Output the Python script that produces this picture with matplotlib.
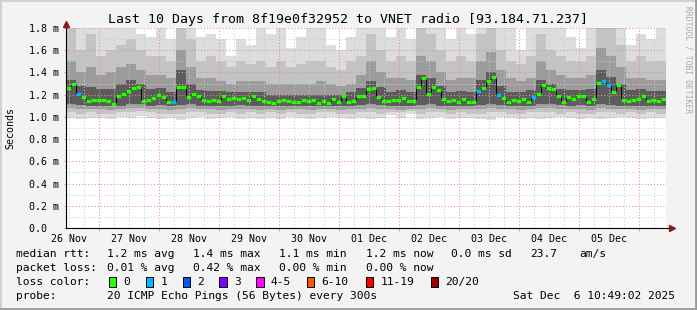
import numpy as np
import matplotlib
matplotlib.use("Agg")
import matplotlib.pyplot as plt

W, H = 697, 310
MONO = "DejaVu Sans Mono"

title = "Last 10 Days from 8f19e0f32952 to VNET radio [93.184.71.237]"

# time in hours counted from 26 Nov 00:00
t_start = 10 + 49 / 60
t_end = t_start + 240
day_labels = ["26 Nov", "27 Nov", "28 Nov", "29 Nov", "30 Nov",
              "01 Dec", "02 Dec", "03 Dec", "04 Dec", "05 Dec"]
y_ticks = [0.0, 0.2, 0.4, 0.6, 0.8, 1.0, 1.2, 1.4, 1.6, 1.8]
y_labels = ["0.0  ", "0.2 m", "0.4 m", "0.6 m", "0.8 m",
            "1.0 m", "1.2 m", "1.4 m", "1.6 m", "1.8 m"]

# median rtt (ms), one value per 2 hours
median_ms = [1.26, 1.30, 1.21, 1.18, 1.14, 1.15, 1.155, 1.155, 1.14, 1.12,
             1.19, 1.21, 1.23, 1.26, 1.27, 1.14, 1.15, 1.17, 1.20, 1.18,
             1.13, 1.135, 1.27, 1.265, 1.175, 1.21, 1.19, 1.15, 1.145, 1.15,
             1.145, 1.19, 1.16, 1.173, 1.16, 1.173, 1.15, 1.19, 1.16, 1.145,
             1.135, 1.125, 1.14, 1.15, 1.145, 1.13, 1.137, 1.15, 1.143, 1.15,
             1.128, 1.143, 1.128, 1.16, 1.13, 1.19, 1.13, 1.143, 1.19, 1.19,
             1.25, 1.257, 1.18, 1.143, 1.143, 1.15, 1.15, 1.173, 1.143, 1.143,
             1.27, 1.35, 1.21, 1.27, 1.24, 1.16, 1.143, 1.15, 1.13, 1.16,
             1.137, 1.13, 1.235, 1.257, 1.32, 1.36, 1.20, 1.173, 1.13, 1.15,
             1.143, 1.16, 1.13, 1.18, 1.21, 1.29, 1.257, 1.25, 1.19, 1.13,
             1.18, 1.16, 1.19, 1.19, 1.137, 1.16, 1.308, 1.32, 1.29, 1.22,
             1.29, 1.15, 1.14, 1.15, 1.16, 1.19, 1.14, 1.15, 1.143, 1.16]
# lost pings (of 20) for each median value
median_loss = [0, 0, 1, 0, 0, 0, 0, 0, 0, 0,
               0, 0, 0, 0, 0, 0, 0, 0, 0, 0,
               0, 1, 0, 0, 0, 0, 0, 0, 0, 0,
               0, 0, 0, 0, 0, 0, 0, 0, 0, 0,
               0, 0, 0, 0, 0, 0, 0, 0, 0, 0,
               0, 0, 0, 0, 0, 0, 0, 0, 0, 0,
               0, 0, 0, 0, 0, 0, 0, 0, 0, 0,
               0, 0, 0, 0, 0, 0, 0, 0, 0, 0,
               0, 0, 1, 0, 0, 0, 1, 0, 0, 0,
               0, 0, 0, 1, 0, 0, 0, 0, 0, 0,
               0, 0, 0, 0, 0, 0, 0, 1, 1, 0,
               0, 0, 0, 0, 0, 0, 0, 0, 0, 0]

# smoke: sorted ping levels (ms), one column per 4 hours
smoke_max = [1.85, 1.85, 1.85, 1.85, 1.85, 1.85, 1.85, 1.75, 1.72, 1.8,
             1.7, 1.85, 1.85, 1.72, 1.75, 1.7, 1.55, 1.7, 1.65, 1.8,
             1.75, 1.8, 1.62, 1.72, 1.8, 1.8, 1.65, 1.6, 1.72, 1.8,
             1.85, 1.8, 1.72, 1.8, 1.7, 1.85, 1.85, 1.8, 1.7, 1.8,
             1.75, 1.85, 1.85, 1.85, 1.8, 1.6, 1.8, 1.85, 1.85, 1.8,
             1.72, 1.62, 1.8, 1.85, 1.85, 1.85, 1.65, 1.75, 1.7, 1.8]
smoke_p18 = [1.8, 1.6, 1.75, 1.55, 1.6, 1.65, 1.7, 1.6, 1.55, 1.55,
             1.5, 1.85, 1.7, 1.5, 1.55, 1.5, 1.45, 1.5, 1.48, 1.5,
             1.45, 1.5, 1.45, 1.48, 1.5, 1.5, 1.45, 1.42, 1.5, 1.55,
             1.75, 1.6, 1.5, 1.55, 1.5, 1.8, 1.75, 1.6, 1.5, 1.55,
             1.5, 1.75, 1.8, 1.6, 1.5, 1.48, 1.55, 1.75, 1.6, 1.55,
             1.5, 1.5, 1.55, 1.85, 1.8, 1.65, 1.5, 1.55, 1.5, 1.5]
smoke_p15 = [1.5, 1.4, 1.45, 1.38, 1.4, 1.45, 1.48, 1.42, 1.38, 1.38,
             1.35, 1.6, 1.45, 1.35, 1.35, 1.32, 1.3, 1.32, 1.32, 1.32,
             1.3, 1.3, 1.3, 1.3, 1.3, 1.32, 1.3, 1.28, 1.3, 1.38,
             1.5, 1.4, 1.35, 1.35, 1.33, 1.55, 1.5, 1.4, 1.33, 1.35,
             1.35, 1.5, 1.58, 1.42, 1.35, 1.32, 1.35, 1.5, 1.42, 1.38,
             1.35, 1.35, 1.38, 1.62, 1.55, 1.45, 1.35, 1.35, 1.33, 1.33]
smoke_p12 = [1.33, 1.28, 1.27, 1.25, 1.25, 1.3, 1.33, 1.3, 1.25, 1.26,
             1.22, 1.42, 1.3, 1.24, 1.23, 1.23, 1.22, 1.22, 1.22, 1.22,
             1.2, 1.2, 1.2, 1.2, 1.2, 1.2, 1.2, 1.2, 1.22, 1.26,
             1.32, 1.27, 1.22, 1.24, 1.22, 1.38, 1.35, 1.28, 1.22, 1.23,
             1.22, 1.33, 1.4, 1.28, 1.22, 1.22, 1.24, 1.33, 1.3, 1.25,
             1.24, 1.24, 1.25, 1.42, 1.36, 1.3, 1.24, 1.25, 1.23, 1.23]
smoke_p9 = [1.12, 1.11, 1.1, 1.1, 1.1, 1.1, 1.12, 1.12, 1.1, 1.11,
            1.1, 1.11, 1.12, 1.1, 1.1, 1.1, 1.1, 1.11, 1.1, 1.1,
            1.1, 1.1, 1.1, 1.1, 1.1, 1.1, 1.1, 1.1, 1.1, 1.11,
            1.12, 1.11, 1.1, 1.1, 1.1, 1.11, 1.12, 1.1, 1.1, 1.1,
            1.1, 1.11, 1.12, 1.11, 1.1, 1.1, 1.1, 1.12, 1.12, 1.11,
            1.1, 1.11, 1.1, 1.12, 1.11, 1.1, 1.1, 1.1, 1.1, 1.1]
smoke_p6 = [1.08, 1.07, 1.07, 1.07, 1.06, 1.07, 1.08, 1.08, 1.07, 1.07,
            1.06, 1.07, 1.08, 1.07, 1.07, 1.06, 1.07, 1.07, 1.07, 1.06,
            1.07, 1.06, 1.07, 1.07, 1.06, 1.07, 1.07, 1.06, 1.07, 1.07,
            1.08, 1.07, 1.07, 1.06, 1.07, 1.07, 1.08, 1.07, 1.06, 1.07,
            1.07, 1.07, 1.08, 1.07, 1.07, 1.06, 1.07, 1.08, 1.08, 1.07,
            1.07, 1.07, 1.06, 1.08, 1.07, 1.07, 1.07, 1.06, 1.07, 1.07]
smoke_p3 = [1.04, 1.03, 1.04, 1.03, 1.03, 1.04, 1.04, 1.05, 1.04, 1.03,
            1.03, 1.03, 1.04, 1.04, 1.03, 1.03, 1.04, 1.03, 1.04, 1.03,
            1.04, 1.03, 1.04, 1.03, 1.03, 1.04, 1.04, 1.03, 1.03, 1.04,
            1.04, 1.03, 1.04, 1.04, 1.05, 1.03, 1.04, 1.04, 1.03, 1.04,
            1.03, 1.03, 1.04, 1.04, 1.03, 1.03, 1.04, 1.04, 1.04, 1.03,
            1.04, 1.03, 1.03, 1.04, 1.04, 1.03, 1.04, 1.03, 1.04, 1.03]
smoke_min = [0.99, 0.98, 0.99, 0.99, 0.98, 1.0, 0.99, 1.01, 0.99, 0.98,
             0.99, 0.97, 0.99, 1.0, 0.98, 0.99, 1.0, 0.98, 0.99, 0.98,
             0.99, 0.98, 1.0, 0.99, 0.98, 0.99, 1.0, 0.99, 0.98, 0.99,
             0.98, 0.99, 1.02, 0.99, 1.03, 0.98, 0.99, 1.0, 0.98, 0.99,
             0.99, 0.98, 0.97, 1.0, 0.99, 0.98, 0.99, 0.98, 0.99, 1.0,
             0.99, 0.98, 0.99, 0.98, 0.99, 1.0, 0.99, 0.98, 0.99, 0.99]

loss_labels = ["0", "1", "2", "3", "4-5", "6-10", "11-19", "20/20"]
loss_colors = ["#26ff00", "#00b8ff", "#0059ff", "#7e00ff",
               "#ff00ff", "#ff5500", "#ff0000", "#a10000"]

rtt_stats = ["1.2 ms avg", "1.4 ms max", "1.1 ms min", "1.2 ms now", "0.0 ms sd", "23.7", "am/s"]
loss_stats = ["0.01 % avg", "0.42 % max", "0.00 % min", "0.00 % now"]
probe_text = "20 ICMP Echo Pings (56 Bytes) every 300s"
stamp_text = "Sat Dec  6 10:49:02 2025"


def fx(x):
    return x / W


def fy(y):
    return 1 - y / H


fig = plt.figure(figsize=(W / 100, H / 100), dpi=100, facecolor="#f3f3f3")

# 3d frame
fig.add_artist(plt.Line2D([0, 1], [fy(0.5), fy(0.5)], color="#d2d2d2", lw=1.4))
fig.add_artist(plt.Line2D([fx(0.5), fx(0.5)], [0, 1], color="#d2d2d2", lw=1.4))
fig.add_artist(plt.Line2D([0, 1], [fy(309), fy(309)], color="#9a9a9a", lw=2))
fig.add_artist(plt.Line2D([fx(696), fx(696)], [0, 1], color="#9a9a9a", lw=2))

ax = fig.add_axes([fx(66), fy(228), 600 / W, 200 / H])
ax.set_facecolor("white")
ax.set_xlim(t_start, t_end)
ax.set_ylim(0, 1.8)
for s in ax.spines.values():
    s.set_visible(False)

# smoke
n_cols = len(smoke_max)
t_cols = t_start + np.arange(n_cols + 1) * 240 / n_cols
layers = [(smoke_min, smoke_max, "#dddddd"),
          (smoke_p3, smoke_p18, "#c3c3c3"),
          (smoke_p6, smoke_p15, "#9c9c9c"),
          (smoke_p9, smoke_p12, "#5c5c5c")]
for lo, hi, col in layers:
    lo2 = np.append(lo, lo[-1])
    hi2 = np.append(hi, hi[-1])
    ax.fill_between(t_cols, lo2, hi2, step="post", color=col, lw=0, zorder=1)

# grid
hours = np.arange(0, 264, 6)
for h in hours:
    if t_start < h < t_end:
        major = h % 24 == 0
        ax.axvline(h, color="#f08a8a" if major else "#cccccc", lw=0.75,
                   ls=(0, (1, 2)), zorder=2)
for v in np.arange(0.1, 1.85, 0.1):
    major = round(v * 10) % 2 == 0
    ax.axhline(v, color="#f08a8a" if major else "#cccccc", lw=0.75,
               ls=(0, (1, 2)), zorder=2)

# median
n_med = len(median_ms)
t_med = t_start + np.arange(n_med + 1) * 240 / n_med
med2 = np.append(median_ms, median_ms[-1])
ax.step(t_med, med2, where="post", color="black", lw=0.7, zorder=3)
loss_col = {0: loss_colors[0], 1: loss_colors[1], 2: loss_colors[2], 3: loss_colors[3]}
for i in range(n_med):
    ax.plot([t_med[i], t_med[i + 1]], [median_ms[i], median_ms[i]],
            color=loss_col[median_loss[i]], lw=2.3, solid_capstyle="butt", zorder=4)

# axes lines and arrows
ax.plot([0, 0], [0, 1.02], transform=ax.transAxes, color="black", lw=0.8,
        clip_on=False, zorder=5)
ax.plot([0, 1.008], [0, 0], transform=ax.transAxes, color="black", lw=0.8,
        clip_on=False, zorder=5)
ax.plot([0], [1.022], marker="^", ms=4, color="#8b1a1a", transform=ax.transAxes,
        clip_on=False, zorder=6)
ax.plot([1.01], [0], marker=">", ms=4, color="#8b1a1a", transform=ax.transAxes,
        clip_on=False, zorder=6)

# ticks
noons = [12 + 24 * k for k in range(len(day_labels))]
ax.set_xticks(noons, day_labels, fontsize=7.2, family=MONO)
ax.set_xticks([24 * k for k in range(1, 11)], minor=True)
ax.tick_params(axis="x", which="major", length=0, pad=4)
ax.tick_params(axis="x", which="minor", length=2.5, color="#f08a8a", width=0.7)
ax.set_yticks(y_ticks, y_labels, fontsize=7.2, family=MONO)
ax.tick_params(axis="y", length=1.5, color="#f08a8a", width=0.7, pad=3.5)
ax.yaxis.set_minor_locator(plt.NullLocator())

fig.text(fx(10), fy(128), "Seconds", rotation=90, ha="center", va="center",
         fontsize=7.2, family=MONO)
fig.text(fx(348), fy(19), title, ha="center", va="center", fontsize=9.5, family=MONO)
fig.text(fx(688), fy(60), "RRDTOOL / TOBI OETIKER", rotation=270, ha="center",
         va="center", fontsize=5.8, family=MONO, color="#a8a8a8")

# legend rows
LF = 8.1
rtt_x = [107, 193, 279, 365.7, 451, 530, 579]
fig.text(fx(16), fy(254), "median rtt:", fontsize=LF, family=MONO, va="center")
for s, x in zip(rtt_stats, rtt_x):
    fig.text(fx(x), fy(254), s, fontsize=LF, family=MONO, va="center")
fig.text(fx(16), fy(268), "packet loss:", fontsize=LF, family=MONO, va="center")
for s, x in zip(loss_stats, rtt_x):
    fig.text(fx(x), fy(268), s, fontsize=LF, family=MONO, va="center")
fig.text(fx(16), fy(282), "loss color:", fontsize=LF, family=MONO, va="center")
box_x = [108.7, 145.7, 182.7, 219.3, 256, 306.7, 365.7, 430.7]
for lab, col, x in zip(loss_labels, loss_colors, box_x):
    fig.add_artist(plt.Rectangle((fx(x), fy(287)), 7.5 / W, 10 / H, facecolor=col,
                                 edgecolor="black", lw=0.7))
    fig.text(fx(x + 14.5), fy(282), lab, fontsize=LF, family=MONO, va="center")
fig.text(fx(16), fy(296), "probe:", fontsize=LF, family=MONO, va="center")
fig.text(fx(107), fy(296), probe_text, fontsize=LF, family=MONO, va="center")
fig.text(fx(513.3), fy(296), stamp_text, fontsize=LF, family=MONO, va="center")

fig.savefig("out.png", dpi=100, facecolor=fig.get_facecolor())
